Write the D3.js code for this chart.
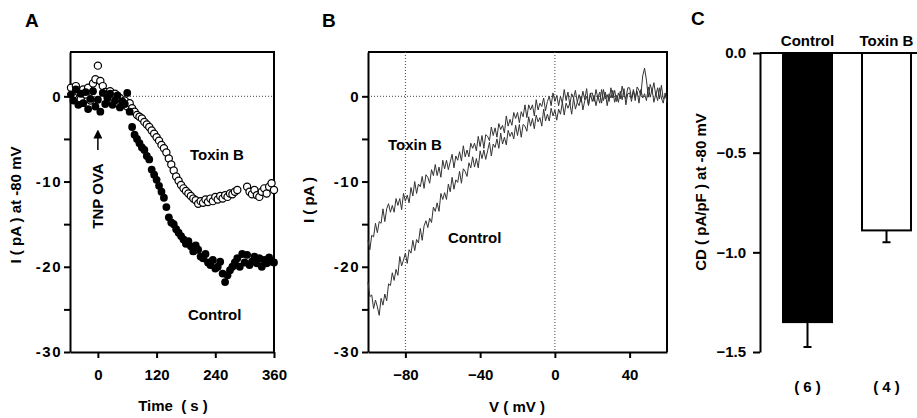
<!DOCTYPE html>
<html>
<head>
<meta charset="utf-8">
<script src="https://cdn.jsdelivr.net/npm/d3@7/dist/d3.min.js"></script>
<style>
  body { margin: 0; background: #fff; }
  svg text { font-family: "Liberation Sans", Arial, sans-serif; font-weight: bold; fill: #000; }
  .axis path, .axis line { stroke: #000; stroke-width: 2; }
  .axis text { font-size: 15px; }
  .yab text { letter-spacing: 1.5px; }
</style>
</head>
<body>
<svg id="fig" width="917" height="418"></svg>
<script>
// ---- panel A : current at -80 mV vs time ----
const timeA = [-55,-50,-45,-40,-35,-30,-25,-20,-15,-10,-5,0,5,10,15,20,25,30,35,40,45,50,55,60,65,70,75,80,85,90,95,100,105,110,115,120,125,130,135,140,145,150,155,160,165,170,175,180,185,190,195,200,205,210,215,220,225,230,235,240,245,250,255,260,265,270,275,280,285,290,295,300,305,310,315,320,325,330,335,340,345,350,355,360];
const controlA = [0.2,-0.5,0.8,-1.0,0.3,-0.8,0.5,-1.5,-0.3,0.6,-1.2,-0.4,-1.8,0.4,-0.9,-0.2,0.3,-1.0,-0.5,0.1,-1.3,-0.6,-0.9,0.4,-1.8,-3.6,-4.5,-5.0,-5.5,-6.0,-6.3,-7.0,-7.4,-8.6,-9.2,-9.8,-10.5,-11.2,-11.9,-13.0,-14.2,-14.8,-15.0,-15.6,-16.0,-16.4,-16.8,-17.3,-17.0,-17.6,-18.2,-17.5,-18.0,-18.8,-19.0,-18.5,-19.5,-19.8,-19.2,-20.2,-20.0,-19.4,-20.8,-21.8,-21.0,-20.4,-20.0,-19.5,-19.0,-20.0,-18.5,-19.5,-18.6,-19.8,-19.4,-18.8,-19.6,-19.0,-20.0,-19.2,-19.6,-18.9,-19.4,-19.5];
const timeToxA = [-55,-50,-45,-40,-35,-30,-25,-20,-15,-10,-5,0,5,10,15,20,25,30,35,40,45,50,55,60,65,70,75,80,85,90,95,100,105,110,115,120,125,130,135,140,145,150,155,160,165,170,175,180,185,190,195,200,205,210,215,220,225,230,235,240,245,250,255,260,265,270,275,280,285,305,310,315,320,325,330,335,340,345,350,355,360];
const toxinA = [1.0,0.2,1.2,0.5,-0.3,0.8,0.2,1.0,-0.5,1.5,2.0,3.6,1.8,1.2,0.5,-0.2,0.6,-0.5,0.3,-0.8,-0.2,-1.0,-0.5,-1.2,-0.8,-1.4,-1.8,-2.2,-2.4,-2.6,-3.0,-3.3,-3.6,-4.0,-4.4,-4.8,-5.2,-5.7,-6.1,-6.6,-7.3,-8.0,-8.7,-9.4,-9.9,-10.4,-10.8,-11.1,-11.4,-11.7,-12.0,-12.2,-12.6,-12.3,-12.5,-12.1,-12.4,-12.0,-12.3,-11.8,-12.1,-11.7,-12.0,-11.6,-11.8,-11.4,-11.5,-11.2,-11.0,-10.6,-11.2,-11.5,-11.0,-11.6,-11.8,-11.2,-10.8,-11.4,-10.6,-10.2,-11.0];

// ---- panel B : I-V ramps, one sample per mV from -100 to +60 ----
const voltB = d3.range(-100, 61);
const controlB = [
  -21.8,-23.5,-23.3,-24.9,-23.9,-24.7,-25.7,-23.7,-24.5,-23.2,-24.0,-22.0,-22.2,-20.7,-21.6,-20.3,-21.0,-18.8,-19.9,-19.2,
  -18.4,-19.6,-18.0,-18.4,-16.9,-18.1,-16.8,-17.2,-15.5,-16.9,-15.2,-14.6,-15.4,-14.3,-14.8,-13.0,-13.5,-12.5,-13.5,-11.4,
  -12.1,-11.3,-12.1,-10.3,-11.2,-9.5,-10.9,-9.8,-10.1,-8.8,-10.2,-8.5,-8.8,-9.4,-7.8,-8.4,-7.1,-8.3,-7.3,-8.4,
  -6.4,-7.3,-6.3,-7.4,-6.4,-5.4,-7.0,-5.6,-6.0,-5.0,-6.1,-4.3,-5.6,-4.8,-5.7,-4.0,-4.7,-4.2,-5.0,-3.4,
  -4.6,-3.3,-4.8,-3.3,-3.5,-4.1,-2.4,-3.5,-2.6,-3.8,-2.2,-3.0,-2.5,-3.5,-1.5,-2.9,-2.1,-2.9,-1.4,-2.3,
  -1.6,-2.8,-1.5,-2.1,-0.7,-2.2,-0.8,-1.4,-0.8,-2.1,-0.2,-1.5,-0.7,-1.1,0.0,-1.6,-0.5,0.0,-1.1,0.4,
  -0.6,0.1,-1.1,0.0,-0.8,0.8,-0.5,0.5,-1.1,0.3,-0.2,0.7,-0.7,0.1,-0.7,0.6,-0.4,0.9,-1.0,0.3,
  0.4,-0.6,0.8,-0.1,0.6,-0.8,0.8,-0.2,0.3,-0.5,1.1,-0.1,0.8,-0.7,0.3,-0.5,1.0,-0.2,-0.8,0.4,
  -0.7];
const toxinB = [
  -16.9,-18.0,-16.3,-16.5,-14.9,-16.0,-14.7,-14.9,-13.2,-14.7,-13.2,-12.6,-13.6,-12.8,-13.6,-12.0,-12.8,-12.0,-13.3,-11.4,
  -12.3,-11.6,-12.5,-10.7,-11.7,-10.0,-11.4,-10.3,-10.6,-9.4,-10.8,-9.2,-9.5,-10.2,-8.6,-9.3,-8.0,-9.3,-8.3,-9.5,
  -7.5,-8.5,-7.5,-8.6,-7.7,-6.8,-8.4,-7.0,-7.5,-6.5,-7.6,-5.8,-7.1,-6.3,-7.1,-5.5,-6.1,-5.5,-6.4,-4.7,
  -5.9,-4.6,-6.1,-4.5,-4.7,-5.2,-3.6,-4.6,-3.7,-4.8,-3.2,-3.9,-3.4,-4.3,-2.3,-3.5,-2.7,-3.4,-1.9,-2.6,
  -1.9,-3.1,-1.8,-2.4,-1.0,-2.5,-1.0,-1.6,-1.0,-2.3,-0.4,-1.6,-0.8,-1.2,-0.2,-1.7,-0.6,0.0,-1.1,0.4,
  -0.6,0.1,-1.1,0.0,-0.8,0.8,-0.5,0.5,-1.0,0.3,-0.2,0.7,-0.7,0.2,-0.7,0.6,-0.4,0.9,-1.0,0.3,
  0.4,-0.6,0.8,-0.2,0.5,-0.8,0.8,-0.3,0.2,-0.6,1.0,-0.2,0.7,-0.6,0.4,-0.3,1.2,0.1,-0.3,1.0,
  1.0,-0.2,0.6,-0.5,1.1,0.7,0.1,2.4,3.3,1.9,-0.1,1.4,0.6,1.6,0.1,1.0,-0.3,1.3,-0.3,-0.1,
  0.0];

// ---- panel C : current density ----
const groupsC = ["Control", "Toxin B"];
const meanC = [-1.35, -0.89];
const semC = [0.125, 0.06];
const nC = ["( 6 )", "( 4 )"];

const svg = d3.select("#fig");

// shared y range for A and B
const yTop = 52, yBot = 352;

function framedPanel(x, y, xTicks, yTicks) {
  const g = svg.append("g");
  const [x0, x1] = x.range();
  // dotted zero line
  g.append("line").attr("x1", x0).attr("x2", x1).attr("y1", y(0)).attr("y2", y(0))
    .attr("stroke", "#444").attr("stroke-width", 1).attr("stroke-dasharray", "1,2");
  g.append("g").attr("class", "axis yab").attr("transform", `translate(${x0},0)`)
    .call(d3.axisLeft(y).tickValues(yTicks).tickSize(6).tickSizeOuter(0).tickPadding(2)
      .tickFormat(d => d % 10 === 0 ? d : ""));
  g.append("g").attr("class", "axis").attr("transform", `translate(0,${yBot})`)
    .call(d3.axisBottom(x).tickValues(xTicks).tickSize(6).tickSizeOuter(0).tickPadding(11));
  // box top and right
  g.append("path").attr("d", `M${x0},${yTop}H${x1}V${yBot}`)
    .attr("fill", "none").attr("stroke", "#000").attr("stroke-width", 2);
  return g;
}

const yTicksAB = [-30, -25, -20, -15, -10, -5, 0];

// ===== Panel A =====
const xA = d3.scaleLinear().domain([-57, 360]).range([70, 274]);
const yA = d3.scaleLinear().domain([-30, 5.2]).range([yBot, yTop]);
const gA = framedPanel(xA, yA, [0, 120, 240, 360], yTicksAB);

gA.selectAll("circle.tox").data(timeToxA).join("circle").attr("class", "tox")
  .attr("cx", d => xA(d)).attr("cy", (d, i) => yA(toxinA[i])).attr("r", 3.6)
  .attr("fill", "#fff").attr("stroke", "#000").attr("stroke-width", 1.2);
gA.selectAll("circle.ctl").data(timeA).join("circle").attr("class", "ctl")
  .attr("cx", d => xA(d)).attr("cy", (d, i) => yA(controlA[i])).attr("r", 3.9)
  .attr("fill", "#000");

gA.append("text").attr("x", 190).attr("y", 160).style("font-size", "15px").text("Toxin B");
gA.append("text").attr("x", 188).attr("y", 320).style("font-size", "15px").text("Control");
gA.append("text").attr("transform", `translate(${xA(0) + 5},196) rotate(-90)`)
  .attr("text-anchor", "middle").style("font-size", "15px").text("TNP OVA");
svg.append("defs").append("marker").attr("id", "head").attr("viewBox", "0 0 10 10")
  .attr("refX", 5).attr("refY", 5).attr("markerWidth", 6).attr("markerHeight", 6)
  .attr("orient", "auto").append("path").attr("d", "M0,0L10,5L0,10z").attr("fill", "#000");
gA.append("line").attr("x1", xA(0)).attr("x2", xA(0)).attr("y1", 150).attr("y2", 134)
  .attr("stroke", "#000").attr("stroke-width", 1.5).attr("marker-end", "url(#head)");

gA.append("text").attr("x", 173).attr("y", 411).attr("text-anchor", "middle")
  .style("font-size", "15px").attr("xml:space", "preserve").text("Time  ( s )");
gA.append("text").attr("transform", "translate(21,205) rotate(-90)").attr("text-anchor", "middle")
  .style("font-size", "15px").text("I ( pA ) at -80 mV");
svg.append("text").attr("x", 25).attr("y", 27).style("font-size", "19px").text("A");

// ===== Panel B =====
const xB = d3.scaleLinear().domain([-100, 60]).range([368, 667]);
const yB = d3.scaleLinear().domain([-30, 5.2]).range([yBot, yTop]);
const gB = framedPanel(xB, yB, [-80, -40, 0, 40], yTicksAB);
[-80, 0].forEach(v => gB.append("line").attr("x1", xB(v)).attr("x2", xB(v))
  .attr("y1", yTop).attr("y2", yBot).attr("stroke", "#444").attr("stroke-width", 1)
  .attr("stroke-dasharray", "1,2"));

const lineB = vals => d3.line().x(d => xB(d)).y((d, i) => yB(vals[i]))(voltB);
gB.append("path").attr("d", lineB(toxinB)).attr("fill", "none").attr("stroke", "#333").attr("stroke-width", 1);
gB.append("path").attr("d", lineB(controlB)).attr("fill", "none").attr("stroke", "#333").attr("stroke-width", 1);

gB.append("text").attr("x", 388).attr("y", 150).style("font-size", "15px").text("Toxin B");
gB.append("text").attr("x", 448).attr("y", 243).style("font-size", "15px").text("Control");
gB.append("text").attr("x", 517).attr("y", 412).attr("text-anchor", "middle")
  .style("font-size", "15px").text("V ( mV )");
gB.append("text").attr("transform", "translate(314,200) rotate(-90)").attr("text-anchor", "middle")
  .style("font-size", "15px").text("I ( pA )");
svg.append("text").attr("x", 322).attr("y", 27).style("font-size", "19px").text("B");

// ===== Panel C =====
const xC = d3.scaleBand().domain(groupsC).range([768, 926]).paddingInner(0.38).paddingOuter(0.19);
const yC = d3.scaleLinear().domain([-1.5, 0]).range([yBot, 53]);
const gC = svg.append("g");
gC.append("g").attr("class", "axis").attr("transform", "translate(760,0)")
  .call(d3.axisLeft(yC).tickValues([-1.5, -1.0, -0.5, 0]).tickSize(7).tickSizeOuter(0)
    .tickPadding(7).tickFormat(d3.format(".1f")));
gC.selectAll("rect").data(groupsC).join("rect")
  .attr("x", d => xC(d)).attr("width", xC.bandwidth())
  .attr("y", yC(0)).attr("height", (d, i) => yC(meanC[i]) - yC(0))
  .attr("fill", (d, i) => i === 0 ? "#000" : "#fff").attr("stroke", "#000").attr("stroke-width", 2);
gC.selectAll("path.err").data(groupsC).join("path").attr("class", "err")
  .attr("d", (d, i) => {
    const cx = xC(d) + xC.bandwidth() / 2;
    return `M${cx},${yC(meanC[i])}V${yC(meanC[i] - semC[i])}M${cx - 4},${yC(meanC[i] - semC[i])}H${cx + 4}`;
  })
  .attr("fill", "none").attr("stroke", "#000").attr("stroke-width", 2);
gC.append("line").attr("x1", 760).attr("x2", 917).attr("y1", yC(0)).attr("y2", yC(0))
  .attr("stroke", "#000").attr("stroke-width", 2);
gC.selectAll("text.grp").data(groupsC).join("text").attr("class", "grp")
  .attr("x", d => xC(d) + xC.bandwidth() / 2).attr("y", 46).attr("text-anchor", "middle")
  .style("font-size", "15px").text(d => d);
gC.selectAll("text.n").data(nC).join("text").attr("class", "n")
  .attr("x", (d, i) => xC(groupsC[i]) + xC.bandwidth() / 2).attr("y", 392).attr("text-anchor", "middle")
  .style("font-size", "15px").attr("xml:space", "preserve").text(d => d);
gC.append("text").attr("transform", "translate(706,192) rotate(-90)").attr("text-anchor", "middle")
  .style("font-size", "15px").text("CD ( pA/pF ) at -80 mV");
svg.append("text").attr("x", 691).attr("y", 25).style("font-size", "19px").text("C");
</script>
</body>
</html>
